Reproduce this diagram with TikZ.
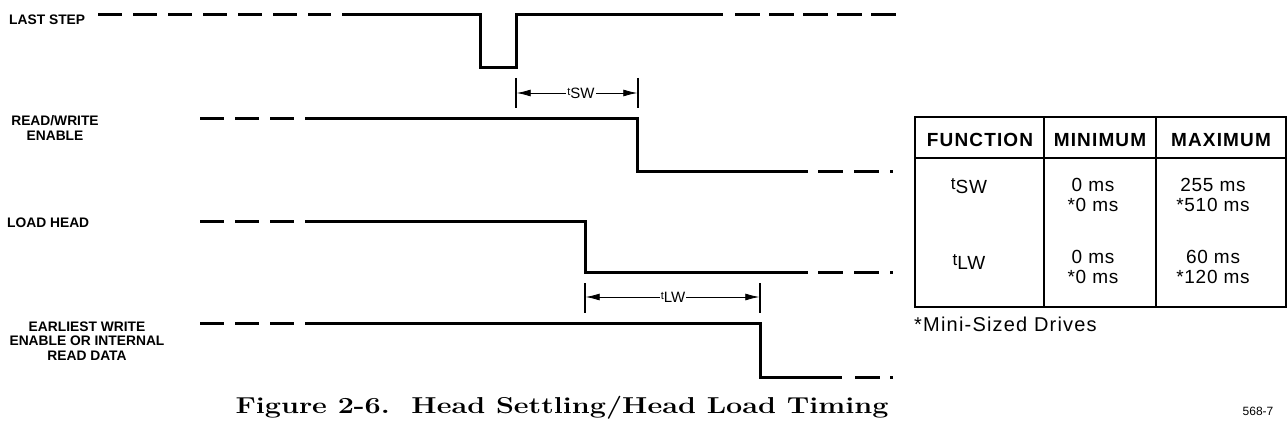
\documentclass[tikz,border=0pt]{standalone}
\usepackage{fontspec}
\usepackage{graphicx}
\setsansfont{Liberation Sans}
\usetikzlibrary{arrows.meta}

\begin{document}
\begin{tikzpicture}[x=1pt, y=-1pt,
    sig/.style={line width=3pt},
    lead/.style={sig, dash pattern=on 24pt off 11pt},
    tail/.style={sig, dash pattern=on 25pt off 11pt on 25pt off 11pt on 3pt off 200pt},
    lbl/.style={font=\sffamily\bfseries\fontsize{13.8}{14.2}\selectfont, align=center, inner sep=0pt},
    tick/.style={line width=1.3pt},
    span/.style={line width=0.8pt, -{Latex[length=14pt,width=7pt]}},
    sub/.style={font=\sffamily\fontsize{15}{15}\selectfont, inner sep=1pt},
    cell/.style={font=\sffamily\fontsize{19}{19.5}\selectfont\addfontfeature{LetterSpace=4}, align=center, inner sep=0pt},
    head/.style={font=\sffamily\bfseries\fontsize{19}{20}\selectfont\addfontfeature{LetterSpace=6}, inner sep=0pt},
    tbl/.style={line width=2.2pt}]
  \useasboundingbox (0,0) rectangle (1288,444);

  % signal names
  \node[lbl, anchor=west] (laststep) at (9,20) {LAST STEP};
  \node[lbl] (rwenable) at (55,128) {READ/WRITE\\ENABLE};
  \node[lbl, anchor=west] (loadhead) at (7,223) {LOAD HEAD};
  \node[lbl] (earliest) at (87,341) {EARLIEST WRITE\\ENABLE OR INTERNAL\\READ DATA};

  % last step
  \draw[lead] (98,15) -- (331,15);
  \draw[sig] (342,15) -- (480,15) -- (480,68) -- (516,68) -- (516,15) -- (723,15);
  \draw[sig, dash pattern=on 25pt off 9pt] (735,15) -- (897,15);

  % read/write enable
  \draw[lead] (200,118) -- (294,118);
  \draw[sig] (305,118) -- (637,118) -- (637,171) -- (808,171);
  \draw[tail] (818,171) -- (893,171);

  % load head
  \draw[lead] (200,221) -- (294,221);
  \draw[sig] (305,221) -- (585,221) -- (585,272) -- (808,272);
  \draw[tail] (818,272) -- (893,272);

  % earliest write enable
  \draw[lead] (200,323) -- (294,323);
  \draw[sig] (305,323) -- (760,323) -- (760,377) -- (842,377);
  \draw[sig, dash pattern=on 25pt off 10pt on 3pt off 100pt] (855,377) -- (893,377);

  % t_sw
  \draw[tick] (516,78) -- (516,108);
  \draw[tick] (638,78) -- (638,108);
  \coordinate (swl) at (516.7,93);
  \coordinate (swr) at (637.3,93);
  \node[sub] (tsw) at (581,93) {{\fontsize{11}{11}\selectfont t}\raisebox{-3pt}{SW}};
  \draw[span] (tsw.west) -- (swl);
  \draw[span] (tsw.east) -- (swr);

  % t_lw
  \draw[tick] (585,283) -- (585,313);
  \draw[tick] (760,283) -- (760,313);
  \coordinate (lwl) at (585.7,297);
  \coordinate (lwr) at (759.3,297);
  \node[sub] (tlw) at (673,297) {{\fontsize{11}{11}\selectfont t}\raisebox{-3pt}{LW}};
  \draw[span] (tlw.west) -- (lwl);
  \draw[span] (tlw.east) -- (lwr);

  % table
  \draw[tbl] (915,117) rectangle (1286,307);
  \draw[tbl] (915,158) -- (1286,158);
  \draw[tbl] (1044,117) -- (1044,307);
  \draw[tbl] (1156,117) -- (1156,307);
  \node[head] (hfunc) at (980,140) {FUNCTION};
  \node[head] (hmin) at (1100,140) {MINIMUM};
  \node[head] (hmax) at (1221,140) {MAXIMUM};
  \node[cell] (fsw) at (969,186) {{\fontsize{17}{17}\selectfont t}\raisebox{-4pt}{SW}};
  \node[cell] (flw) at (969,262) {{\fontsize{17}{17}\selectfont t}\raisebox{-4pt}{LW}};
  \node[cell] (minsw) at (1093,195) {0 ms\\{*}0 ms};
  \node[cell] (maxsw) at (1213,195) {255 ms\\{*}510 ms};
  \node[cell] (minlw) at (1093,267) {0 ms\\{*}0 ms};
  \node[cell] (maxlw) at (1213,267) {60 ms\\{*}120 ms};
  \node[cell, anchor=west, font=\sffamily\fontsize{20}{20}\selectfont\addfontfeature{LetterSpace=6}] (note) at (914,324) {{*}Mini-Sized Drives};

  % caption
  \node[font=\rmfamily\bfseries\fontsize{23}{26}\selectfont, anchor=base] (caption) at (562,413)
    {\scalebox{1.25}[1]{Figure 2-6.\ \ Head Settling/Head Load Timing}};
  \node[font=\sffamily\fontsize{12}{12}\selectfont] (figno) at (1258,411) {568-7};
\end{tikzpicture}
\end{document}
